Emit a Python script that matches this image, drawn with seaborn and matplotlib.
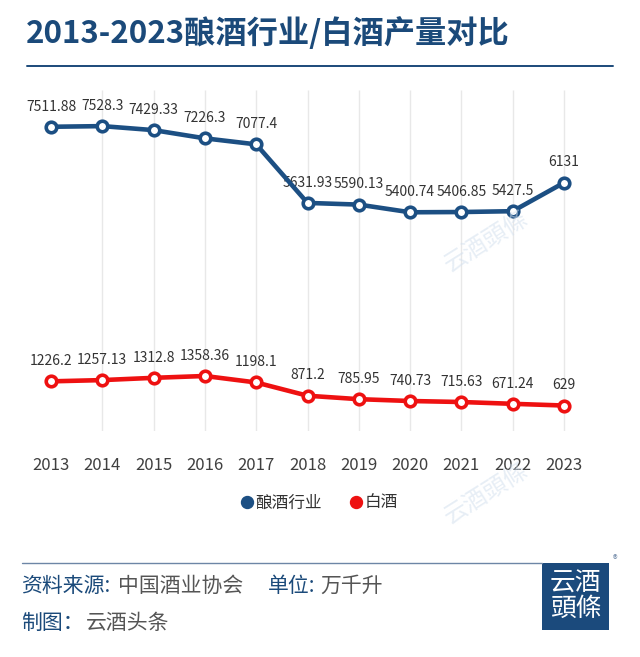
import matplotlib
matplotlib.use("Agg")
import matplotlib.pyplot as plt
from matplotlib.lines import Line2D
from matplotlib.patches import Rectangle
import seaborn as sns
import pandas as pd

# ---- data ----
years = [2013, 2014, 2015, 2016, 2017, 2018, 2019, 2020, 2021, 2022, 2023]
brewing = [7511.88, 7528.3, 7429.33, 7226.3, 7077.4, 5631.93, 5590.13, 5400.74, 5406.85, 5427.5, 6131]
baijiu = [1226.2, 1257.13, 1312.8, 1358.36, 1198.1, 871.2, 785.95, 740.73, 715.63, 671.24, 629]
series_names = ["酿酒行业", "白酒"]
title = "2013-2023酿酒行业/白酒产量对比"

BLUE = "#1c4f83"
RED = "#ee1111"
TITLE_BLUE = "#1b4a7a"

sns.set_theme(style="white")
plt.rcParams["font.family"] = ["Noto Sans CJK SC", "DejaVu Sans"]

W, H = 640, 657
fig = plt.figure(figsize=(W / 100, H / 100), dpi=100)
fig.patch.set_facecolor("white")

def fx(px):
    return px / W

def fy(py):
    return 1 - py / H

ax = fig.add_axes([fx(25.35), fy(431), fx(564.3), (431 - 90) / H])
ax.set_xlim(years[0] - 0.5, years[-1] + 0.5)
ax.set_ylim(0, 8420)

df = pd.DataFrame({"year": years * 2,
                   "value": brewing + baijiu,
                   "series": [series_names[0]] * len(years) + [series_names[1]] * len(years)})

# vertical grid lines
ax.vlines(years[1:], 0, 8420, color="#e8e8e8", lw=1.0, zorder=0)

for name, col in zip(series_names, [BLUE, RED]):
    sub = df[df["series"] == name]
    sns.lineplot(data=sub, x="year", y="value", ax=ax, color=col, lw=3.3,
                 marker="o", markersize=7.6, markerfacecolor="white",
                 markeredgecolor=col, markeredgewidth=2.6, zorder=3, legend=False)
    for x, v in zip(sub["year"], sub["value"]):
        ax.annotate(f"{v:g}", (x, v), xytext=(0, 14.6), textcoords="offset points",
                    ha="center", va="center", fontsize=10, color="#333333", zorder=1)

ax.set_xticks(years)
ax.set_xticklabels([str(y) for y in years])
ax.set_yticks([])
ax.set_xlabel("")
ax.set_ylabel("")
ax.tick_params(axis="x", length=0, pad=18.5, labelsize=12, labelcolor="#404040")
for s in ax.spines.values():
    s.set_visible(False)
ax.grid(False)
ax.set_facecolor("none")

# legend
handles = [Line2D([], [], ls="none", marker="o", markersize=8.6, color=c) for c in [BLUE, RED]]
fig.legend(handles, series_names, loc="center", bbox_to_anchor=(0.5, fy(503)), ncol=2,
           frameon=False, fontsize=12, handlelength=0.6, handletextpad=0.2,
           columnspacing=1.75, borderaxespad=0, borderpad=0, labelcolor="#333333")

# title and rules
fig.text(fx(26), fy(34), title, ha="left", va="center", fontsize=22.5,
         fontweight="bold", color=TITLE_BLUE)
fig.add_artist(Line2D([fx(27), fx(613)], [fy(66), fy(66)], color=TITLE_BLUE, lw=1.4))
fig.add_artist(Line2D([fx(22), fx(542)], [fy(563), fy(563)], color="#6d86a6", lw=1.0))

# footer
fs = 15
fig.text(fx(21), fy(586), "资料来源:", ha="left", va="center", fontsize=fs, color=TITLE_BLUE)
fig.text(fx(118), fy(586), "中国酒业协会", ha="left", va="center", fontsize=fs, color="#555555")
fig.text(fx(268), fy(586), "单位:", ha="left", va="center", fontsize=fs, color=TITLE_BLUE)
fig.text(fx(320), fy(586), "万千升", ha="left", va="center", fontsize=fs, color="#555555")
fig.text(fx(21), fy(623), "制图：", ha="left", va="center", fontsize=fs, color=TITLE_BLUE)
fig.text(fx(86), fy(623), "云酒头条", ha="left", va="center", fontsize=fs, color="#555555")

# logo
fig.add_artist(Rectangle((fx(542), fy(630)), 67 / W, 67 / H, transform=fig.transFigure,
                         facecolor="#1b4a7c", edgecolor="none"))
fig.text(fx(575.5), fy(584), "云酒", ha="center", va="center", fontsize=18.5,
         color="white", family=["Noto Sans CJK TC", "DejaVu Sans"])
fig.text(fx(575.5), fy(609), "頭條", ha="center", va="center", fontsize=18.5,
         color="white", family=["Noto Sans CJK TC", "DejaVu Sans"])
fig.text(fx(615), fy(560), "®", ha="center", va="center", fontsize=7, color="#6d86a6")

# watermarks
for (px, py) in [(486, 242), (486, 494)]:
    fig.text(fx(px), fy(py), "云酒頭條", ha="center", va="center", fontsize=17,
             rotation=32, color="#d3e0ee", alpha=0.55,
             family=["Noto Sans CJK TC", "DejaVu Sans"], zorder=0)

fig.savefig("out.png", dpi=100, facecolor="white")
